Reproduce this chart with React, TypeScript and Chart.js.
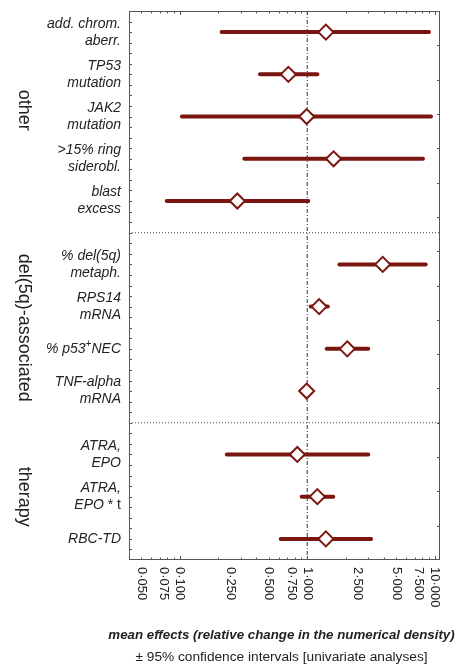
import { useEffect, useRef } from "react";
import { Chart, registerables } from "chart.js";

Chart.register(...registerables);

// ---------- data ----------
const categoryLabels: string[][] = [
  ["add. chrom.", "aberr."],
  ["TP53", "mutation"],
  ["JAK2", "mutation"],
  [">15% ring", "siderobl."],
  ["blast", "excess"],
  ["% del(5q)", "metaph."],
  ["RPS14", "mRNA"],
  ["% p53^+NEC"],
  ["TNF-alpha", "mRNA"],
  ["ATRA,", "EPO"],
  ["ATRA,", "EPO| * t"],
  ["RBC-TD"],
];
const rowPositions = [0, 1, 2, 3, 4, 5.5, 6.5, 7.5, 8.5, 10, 11, 12];
const meanValues = [1.4, 0.711, 0.99, 1.61, 0.283, 3.91, 1.24, 2.06, 0.99, 0.836, 1.2, 1.4];
const lowerCI = [0.213, 0.426, 0.104, 0.321, 0.079, 1.79, 1.065, 1.42, 0.97, 0.234, 0.905, 0.62];
const upperCI = [9.02, 1.2, 9.35, 8.09, 1.02, 8.49, 1.45, 3.01, 1.03, 3.01, 1.6, 3.17];

const groupNames = ["other", "del(5q)-associated", "therapy"];
const groupCenters = [1.85, 7, 11];
const separatorPositions = [4.75, 9.25];
const referenceValue = 1;

const xTickValues = [0.05, 0.075, 0.1, 0.25, 0.5, 0.75, 1, 2.5, 5, 7.5, 10];
const xTickLabels = ["0·050", "0·075", "0·100", "0·250", "0·500", "0·750", "1·000", "2·500", "5·000", "7·500", "10·000"];

const xMin = 0.04;
const xMax = 11;
const yMin = -0.5;
const yMax = 12.5;

const axisTitle = "mean effects (relative change in the numerical density)";
const axisSubtitle = "± 95% confidence intervals [univariate analyses]";

// ---------- styles ----------
const DARK_RED = "#7a1510";
const TEXT = "#222222";
const FONT = "'Liberation Sans', Arial, Helvetica, sans-serif";

type Seg = { t: string; italic: boolean; sup: boolean };

function parseLabel(s: string): Seg[] {
  const parts = s.split("|");
  const segs: Seg[] = [];
  parts.forEach((p, pi) => {
    const italic = pi === 0;
    let buf = "";
    for (let i = 0; i < p.length; i++) {
      if (p[i] === "^" && i + 1 < p.length) {
        if (buf) segs.push({ t: buf, italic, sup: false });
        buf = "";
        segs.push({ t: p[i + 1], italic, sup: true });
        i++;
      } else buf += p[i];
    }
    if (buf) segs.push({ t: buf, italic, sup: false });
  });
  return segs;
}

function segFont(s: Seg) {
  return `${s.italic ? "italic " : ""}${s.sup ? 10 : 14}px ${FONT}`;
}

function drawRightAligned(ctx: CanvasRenderingContext2D, text: string, rightX: number, y: number) {
  const segs = parseLabel(text);
  let total = 0;
  const widths = segs.map((s) => {
    ctx.font = segFont(s);
    const w = ctx.measureText(s.t).width;
    total += w;
    return w;
  });
  let x = rightX - total;
  ctx.textAlign = "left";
  ctx.textBaseline = "middle";
  segs.forEach((s, i) => {
    ctx.font = segFont(s);
    ctx.fillText(s.t, x, s.sup ? y - 5 : y);
    x += widths[i];
  });
}

const decorPlugin = {
  id: "forestDecor",
  afterDraw(chart: any) {
    const { ctx, chartArea: a, scales } = chart;
    const xs = scales.x;
    const ys = scales.y;
    ctx.save();

    // frame
    ctx.strokeStyle = "#555555";
    ctx.lineWidth = 1;
    ctx.strokeRect(Math.round(a.left) + 0.5, Math.round(a.top) + 0.5, Math.round(a.right - a.left) - 1, Math.round(a.bottom - a.top) - 1);

    // x ticks (log minor ticks), inside top & bottom
    ctx.beginPath();
    [0.01, 0.1, 1, 10].forEach((d) => {
      for (let m = 1; m <= 9; m++) {
        const v = m * d;
        if (v < xMin || v > xMax) continue;
        const px = Math.round(xs.getPixelForValue(v)) + 0.5;
        const len = m === 1 ? 4 : 2.5;
        ctx.moveTo(px, a.bottom);
        ctx.lineTo(px, a.bottom - len);
        ctx.moveTo(px, a.top);
        ctx.lineTo(px, a.top + len);
      }
    });
    // left ticks every quarter row
    for (let v = yMin + 0.25; v < yMax; v += 0.25) {
      const py = Math.round(ys.getPixelForValue(v)) + 0.5;
      ctx.moveTo(a.left, py);
      ctx.lineTo(a.left + 3, py);
    }
    // right ticks
    for (let i = 1; i < 16; i++) {
      const v = yMin + (i * (yMax - yMin)) / 16;
      const py = Math.round(ys.getPixelForValue(v)) + 0.5;
      ctx.moveTo(a.right, py);
      ctx.lineTo(a.right - 3, py);
    }
    ctx.stroke();

    // x tick labels, rotated clockwise
    ctx.fillStyle = TEXT;
    ctx.font = `13px ${FONT}`;
    xTickValues.forEach((v, i) => {
      const px = xs.getPixelForValue(v);
      ctx.save();
      ctx.translate(px, a.bottom + 7);
      ctx.rotate(Math.PI / 2);
      ctx.textAlign = "left";
      ctx.textBaseline = "middle";
      ctx.fillText(xTickLabels[i], 0, 0);
      ctx.restore();
    });

    // category labels
    categoryLabels.forEach((lines, i) => {
      const py = ys.getPixelForValue(rowPositions[i]);
      const lh = 17;
      const start = py - ((lines.length - 1) * lh) / 2;
      lines.forEach((ln, j) => {
        ctx.fillStyle = TEXT;
        drawRightAligned(ctx, ln, a.left - 8, start + j * lh);
      });
    });

    // group labels
    ctx.font = `18px ${FONT}`;
    groupNames.forEach((g, i) => {
      const py = ys.getPixelForValue(groupCenters[i]);
      ctx.save();
      ctx.translate(24, py);
      ctx.rotate(Math.PI / 2);
      ctx.textAlign = "center";
      ctx.textBaseline = "middle";
      ctx.fillText(g, 0, 0);
      ctx.restore();
    });

    // axis titles
    const cx = (a.left + a.right) / 2 - 3;
    ctx.textAlign = "center";
    ctx.textBaseline = "middle";
    ctx.font = `italic bold 13.3px ${FONT}`;
    ctx.fillText(axisTitle, cx, a.bottom + 75);
    ctx.font = `13.7px ${FONT}`;
    ctx.fillText(axisSubtitle, cx, a.bottom + 97);

    ctx.restore();
  },
};

export default function App() {
  const canvasRef = useRef<HTMLCanvasElement | null>(null);

  useEffect(() => {
    document.body.style.margin = "0";
    const canvas = canvasRef.current;
    if (!canvas) return;

    const ciDatasets = rowPositions.map((pos, i) => ({
      type: "line" as const,
      label: `ci-${i}`,
      data: [
        { x: lowerCI[i], y: pos },
        { x: upperCI[i], y: pos },
      ],
      borderColor: DARK_RED,
      borderWidth: 4,
      borderCapStyle: "round" as const,
      pointRadius: 0,
      showLine: true,
      fill: false,
    }));

    const refDataset = {
      type: "line" as const,
      label: "reference",
      data: [
        { x: referenceValue, y: yMin },
        { x: referenceValue, y: yMax },
      ],
      borderColor: "#333333",
      borderWidth: 1,
      borderDash: [4, 2, 1, 2],
      pointRadius: 0,
      showLine: true,
      fill: false,
    };

    const sepDatasets = separatorPositions.map((s, i) => ({
      type: "line" as const,
      label: `sep-${i}`,
      data: [
        { x: xMin, y: s },
        { x: xMax, y: s },
      ],
      borderColor: "#444444",
      borderWidth: 1,
      borderDash: [1, 2],
      pointRadius: 0,
      showLine: true,
      fill: false,
    }));

    const meanDataset = {
      type: "scatter" as const,
      label: "mean",
      data: rowPositions.map((pos, i) => ({ x: meanValues[i], y: pos })),
      pointStyle: "rectRot" as const,
      pointRadius: 7.5,
      pointBorderWidth: 2,
      pointBackgroundColor: "#ffffff",
      pointBorderColor: DARK_RED,
      showLine: false,
    };

    const chart = new Chart(canvas, {
      type: "scatter",
      data: {
        datasets: [meanDataset, ...ciDatasets, refDataset, ...sepDatasets] as any,
      },
      options: {
        animation: false,
        responsive: false,
        layout: { padding: { left: 129, top: 11, right: 18, bottom: 109 } },
        plugins: {
          legend: { display: false },
          tooltip: { enabled: false },
          title: { display: false },
        },
        scales: {
          x: { type: "logarithmic", min: xMin, max: xMax, display: false },
          y: { type: "linear", min: yMin, max: yMax, reverse: true, display: false },
        },
      },
      plugins: [decorPlugin],
    });

    return () => chart.destroy();
  }, []);

  return (
    <div style={{ width: 458, height: 669 }}>
      <canvas ref={canvasRef} width={458} height={669} />
    </div>
  );
}
